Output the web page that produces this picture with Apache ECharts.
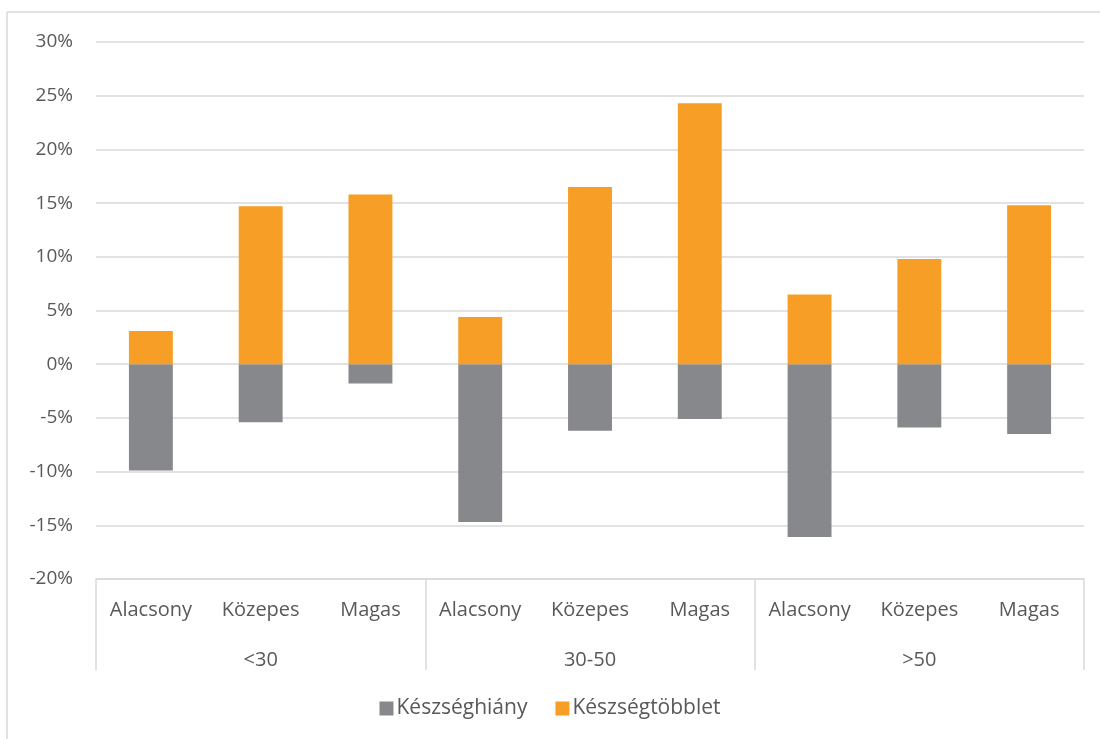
<!DOCTYPE html>
<html>
<head>
<meta charset="utf-8">
<script src="https://cdn.jsdelivr.net/npm/echarts@6/dist/echarts.min.js"></script>
<style>html,body{margin:0;padding:0;background:#fff}#c{width:1100px;height:739px}</style>
</head>
<body>
<div id="c"></div>
<script>
const subCategories = ['Alacsony','Közepes','Magas','Alacsony','Közepes','Magas','Alacsony','Közepes','Magas'];
const groups = ['<30','30-50','>50'];
const hianyValues = [-9.9, -5.4, -1.8, -14.7, -6.2, -5.1, -16.1, -5.9, -6.5];
const tobbletValues = [3.1, 14.7, 15.8, 4.4, 16.5, 24.3, 6.5, 9.8, 14.8];
const seriesNames = ['Készséghiány','Készségtöbblet'];

const FONT = '"Open Sans", "Noto Sans", sans-serif';
const TXT = '#595959';
const LINE = '#d9d9d9';

const chart = echarts.init(document.getElementById('c'), null, {renderer:'canvas'});
chart.setOption({
  animation: false,
  textStyle: {fontFamily: FONT, color: TXT},
  grid: {left: 96, right: 16, top: 42, bottom: 160, containLabel: false},
  legend: {
    bottom: 15, left: 'center',
    itemWidth: 14, itemHeight: 14, itemGap: 28,
    icon: 'rect',
    textStyle: {fontFamily: FONT, fontSize: 21, color: TXT, padding: [0,0,0,-2]},
    data: seriesNames
  },
  graphic: [
    {type:'line', shape:{x1:7,y1:12,x2:1100,y2:12}, style:{stroke:LINE, lineWidth:1.5}, silent:true},
    {type:'line', shape:{x1:7,y1:12,x2:7,y2:739}, style:{stroke:LINE, lineWidth:1.5}, silent:true}
  ],
  xAxis: [
    {
      type: 'category', data: subCategories, position: 'bottom',
      axisLine: {show: true, onZero: false, lineStyle: {color: LINE, width: 1.5}},
      axisTick: {show: false},
      axisLabel: {margin: 21, fontSize: 20, color: TXT, fontFamily: FONT, interval: 0}
    },
    {
      type: 'category', data: groups, position: 'bottom',
      axisLine: {show: false, onZero: false},
      axisTick: {show: true, length: 91, lineStyle: {color: LINE, width: 1.5}},
      axisLabel: {margin: 71, fontSize: 20, color: TXT, fontFamily: FONT}
    }
  ],
  yAxis: {
    type: 'value', min: -20, max: 30, interval: 5,
    axisLine: {show: false}, axisTick: {show: false},
    axisLabel: {formatter: '{value}%', margin: 23, fontSize: 19, color: TXT, fontFamily: FONT},
    splitLine: {lineStyle: {color: LINE, width: 1.5}}
  },
  series: [
    {name: seriesNames[0], type: 'bar', data: hianyValues, barWidth: '40%', barGap: '-100%',
     itemStyle: {color: '#87888c'}, z: 2},
    {name: seriesNames[1], type: 'bar', data: tobbletValues, barWidth: '40%',
     itemStyle: {color: '#f79e27'}, z: 2}
  ]
});
</script>
</body>
</html>
